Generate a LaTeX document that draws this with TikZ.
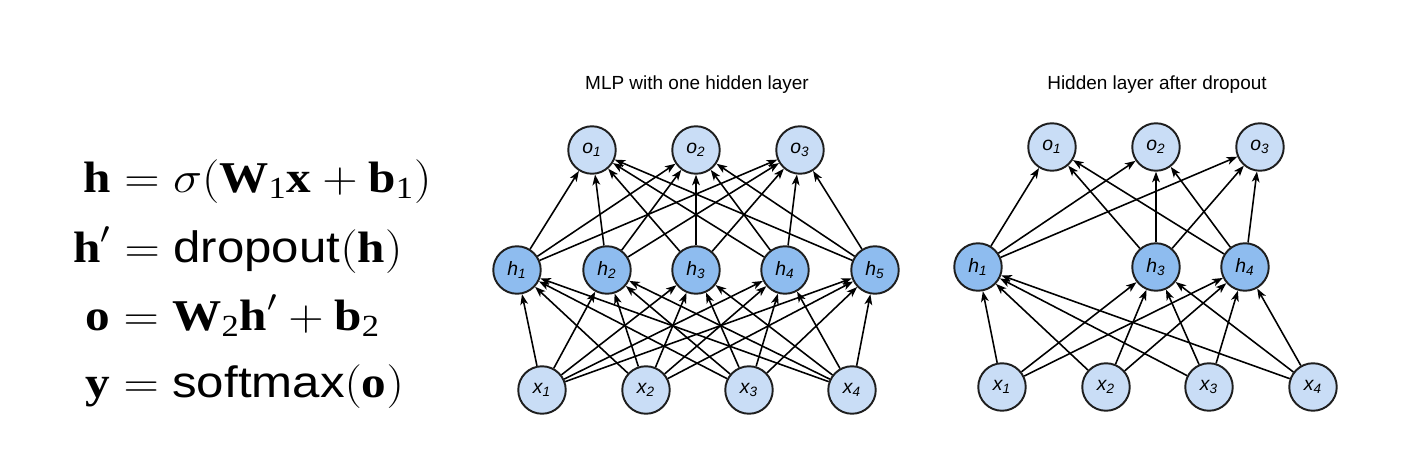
\documentclass[tikz,border=0pt]{standalone}
\usepackage{amsmath}
\usepackage{amssymb}
\usepackage{fontspec}
\setmainfont{Liberation Serif}
\setsansfont{Liberation Sans}
\usetikzlibrary{arrows.meta}

\definecolor{lightblue}{RGB}{201,221,246}
\definecolor{darkblue}{RGB}{142,188,239}
\definecolor{rim}{RGB}{30,30,30}

% bold upright vector letters
\newcommand{\vb}[1]{\text{\rmfamily\bfseries #1}}
\newcommand{\fn}[1]{\text{\sffamily #1}}
\newcommand{\sbn}[1]{\text{\rmfamily #1}}
\newcommand{\eqline}[1]{\scalebox{1.12}[1]{#1}}

\begin{document}
\begin{tikzpicture}[x=0.02cm,y=-0.02cm]

    \tikzset{
      VertexStyle/.style = { circle, draw = rim, line width = 1.1pt,
                  fill = lightblue, minimum size = 0.95cm, inner sep = 0pt,
                  font = \fontsize{11}{13}\sffamily\itshape },
      HiddenStyle/.style = { VertexStyle, fill = darkblue },
      EdgeStyle/.style = { line width = 0.9pt, black,
                  -{Stealth[length=6pt, width=4.4pt, inset=1.6pt]} },
      TitleStyle/.style = { font = \fontsize{10.8}{13}\sffamily },
      EqStyle/.style = { anchor = base west, inner sep = 0pt,
                  font = \fontsize{25}{30}\selectfont } }

    \useasboundingbox (0,0) rectangle (1404,454);

    % equations
    \node[EqStyle] (eq1) at (83,192) {\eqline{$\vb{h} = \sigma(\vb{W}_{\sbn{1}}\vb{x} + \vb{b}_{\sbn{1}})$}};
    \node[EqStyle] (eq2) at (73,262) {\eqline{$\vb{h}' = \fn{dropout}(\vb{h})$}};
    \node[EqStyle] (eq3) at (85,330) {\eqline{$\vb{o} = \vb{W}_{\sbn{2}}\vb{h}' + \vb{b}_{\sbn{2}}$}};
    \node[EqStyle] (eq4) at (85,397) {\eqline{$\vb{y} = \fn{softmax}(\vb{o})$}};

    % MLP with one hidden layer
    \node[TitleStyle] (t1) at (697,85) {MLP with one hidden layer};

    \node[VertexStyle] (o1) at (592,150) {o\textsubscript{1}};
    \node[VertexStyle] (o2) at (696,150) {o\textsubscript{2}};
    \node[VertexStyle] (o3) at (800,150) {o\textsubscript{3}};

    \node[HiddenStyle] (h1) at (517,270) {h\textsubscript{1}};
    \node[HiddenStyle] (h2) at (607,270) {h\textsubscript{2}};
    \node[HiddenStyle] (h3) at (696,270) {h\textsubscript{3}};
    \node[HiddenStyle] (h4) at (785,270) {h\textsubscript{4}};
    \node[HiddenStyle] (h5) at (875,270) {h\textsubscript{5}};

    \node[VertexStyle] (x1) at (542,390) {x\textsubscript{1}};
    \node[VertexStyle] (x2) at (646,390) {x\textsubscript{2}};
    \node[VertexStyle] (x3) at (749,390) {x\textsubscript{3}};
    \node[VertexStyle] (x4) at (852,390) {x\textsubscript{4}};

    \path[EdgeStyle] (h1) edge (o1) edge (o2) edge (o3);
    \path[EdgeStyle] (h2) edge (o1) edge (o2) edge (o3);
    \path[EdgeStyle] (h3) edge (o1) edge (o2) edge (o3);
    \path[EdgeStyle] (h4) edge (o1) edge (o2) edge (o3);
    \path[EdgeStyle] (h5) edge (o1) edge (o2) edge (o3);

    \path[EdgeStyle] (x1) edge (h1) edge (h2) edge (h3) edge (h4) edge (h5);
    \path[EdgeStyle] (x2) edge (h1) edge (h2) edge (h3) edge (h4) edge (h5);
    \path[EdgeStyle] (x3) edge (h1) edge (h2) edge (h3) edge (h4) edge (h5);
    \path[EdgeStyle] (x4) edge (h1) edge (h2) edge (h3) edge (h4) edge (h5);

    % Hidden layer after dropout
    \node[TitleStyle] (t2) at (1157,85) {Hidden layer after dropout};

    \node[VertexStyle] (do1) at (1052,147) {o\textsubscript{1}};
    \node[VertexStyle] (do2) at (1156,147) {o\textsubscript{2}};
    \node[VertexStyle] (do3) at (1260,147) {o\textsubscript{3}};

    \node[HiddenStyle] (dh1) at (978,267) {h\textsubscript{1}};
    \node[HiddenStyle] (dh3) at (1156,267) {h\textsubscript{3}};
    \node[HiddenStyle] (dh4) at (1245,267) {h\textsubscript{4}};

    \node[VertexStyle] (dx1) at (1002,387) {x\textsubscript{1}};
    \node[VertexStyle] (dx2) at (1106,387) {x\textsubscript{2}};
    \node[VertexStyle] (dx3) at (1209,387) {x\textsubscript{3}};
    \node[VertexStyle] (dx4) at (1313,387) {x\textsubscript{4}};

    \path[EdgeStyle] (dh1) edge (do1) edge (do2) edge (do3);
    \path[EdgeStyle] (dh3) edge (do1) edge (do2) edge (do3);
    \path[EdgeStyle] (dh4) edge (do1) edge (do2) edge (do3);

    \path[EdgeStyle] (dx1) edge (dh1) edge (dh3) edge (dh4);
    \path[EdgeStyle] (dx2) edge (dh1) edge (dh3) edge (dh4);
    \path[EdgeStyle] (dx3) edge (dh1) edge (dh3) edge (dh4);
    \path[EdgeStyle] (dx4) edge (dh1) edge (dh3) edge (dh4);

\end{tikzpicture}
\end{document}
